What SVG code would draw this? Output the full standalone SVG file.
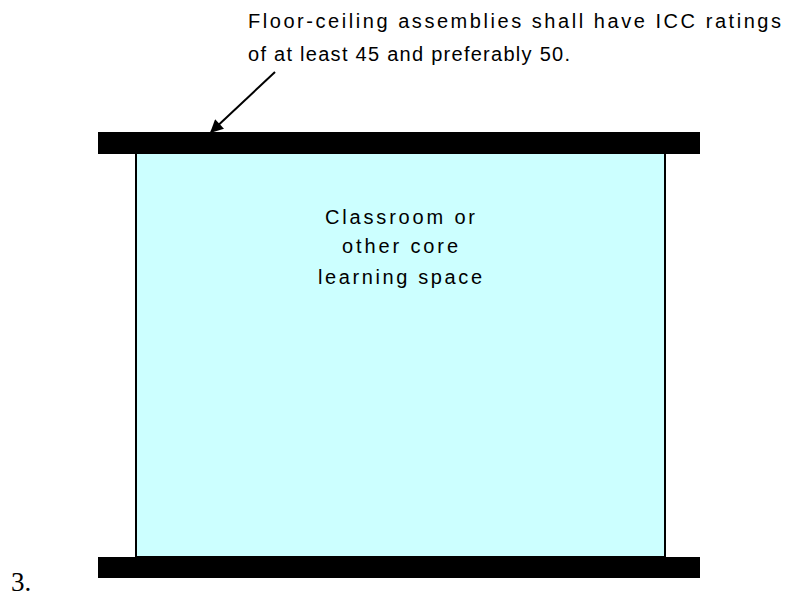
<svg xmlns="http://www.w3.org/2000/svg" width="787" height="596" viewBox="0 0 787 596">
<style>
.lbl{font-family:"Liberation Sans",Arial,sans-serif;font-size:20px;fill:#000}
.bar{fill:#000}
</style>
<defs>
<marker id="ah" viewBox="0 0 10 10" refX="9" refY="5" markerWidth="15" markerHeight="13" orient="auto" markerUnits="userSpaceOnUse">
<path d="M0,0 L10,5 L0,10 z" fill="#000"/>
</marker>
</defs>
<rect width="787" height="596" fill="#fff"/>
<g id="space">
<rect x="136" y="153" width="529" height="404" fill="#ccffff" stroke="#000" stroke-width="2"/>
<text class="lbl" x="325" y="224" textLength="150" lengthAdjust="spacing">Classroom or</text>
<text class="lbl" x="342" y="253" textLength="116" lengthAdjust="spacing">other core</text>
<text class="lbl" x="318" y="284" textLength="164" lengthAdjust="spacing">learning space</text>
</g>
<g id="top-assembly">
<rect class="bar" x="98" y="132" width="602" height="22"/>
</g>
<g id="bottom-assembly">
<rect class="bar" x="98" y="557" width="602" height="21"/>
</g>
<g id="note">
<text class="lbl" x="248" y="28" textLength="533" lengthAdjust="spacing">Floor-ceiling assemblies shall have ICC ratings</text>
<text class="lbl" x="248" y="61" textLength="322" lengthAdjust="spacing">of at least 45 and preferably 50.</text>
</g>
<g id="connectors">
<line x1="275" y1="72" x2="211" y2="132" stroke="#000" stroke-width="2" marker-end="url(#ah)"/>
</g>
<text x="11" y="591" font-family="'Liberation Serif','Times New Roman',serif" font-size="27">3.</text>
</svg>
